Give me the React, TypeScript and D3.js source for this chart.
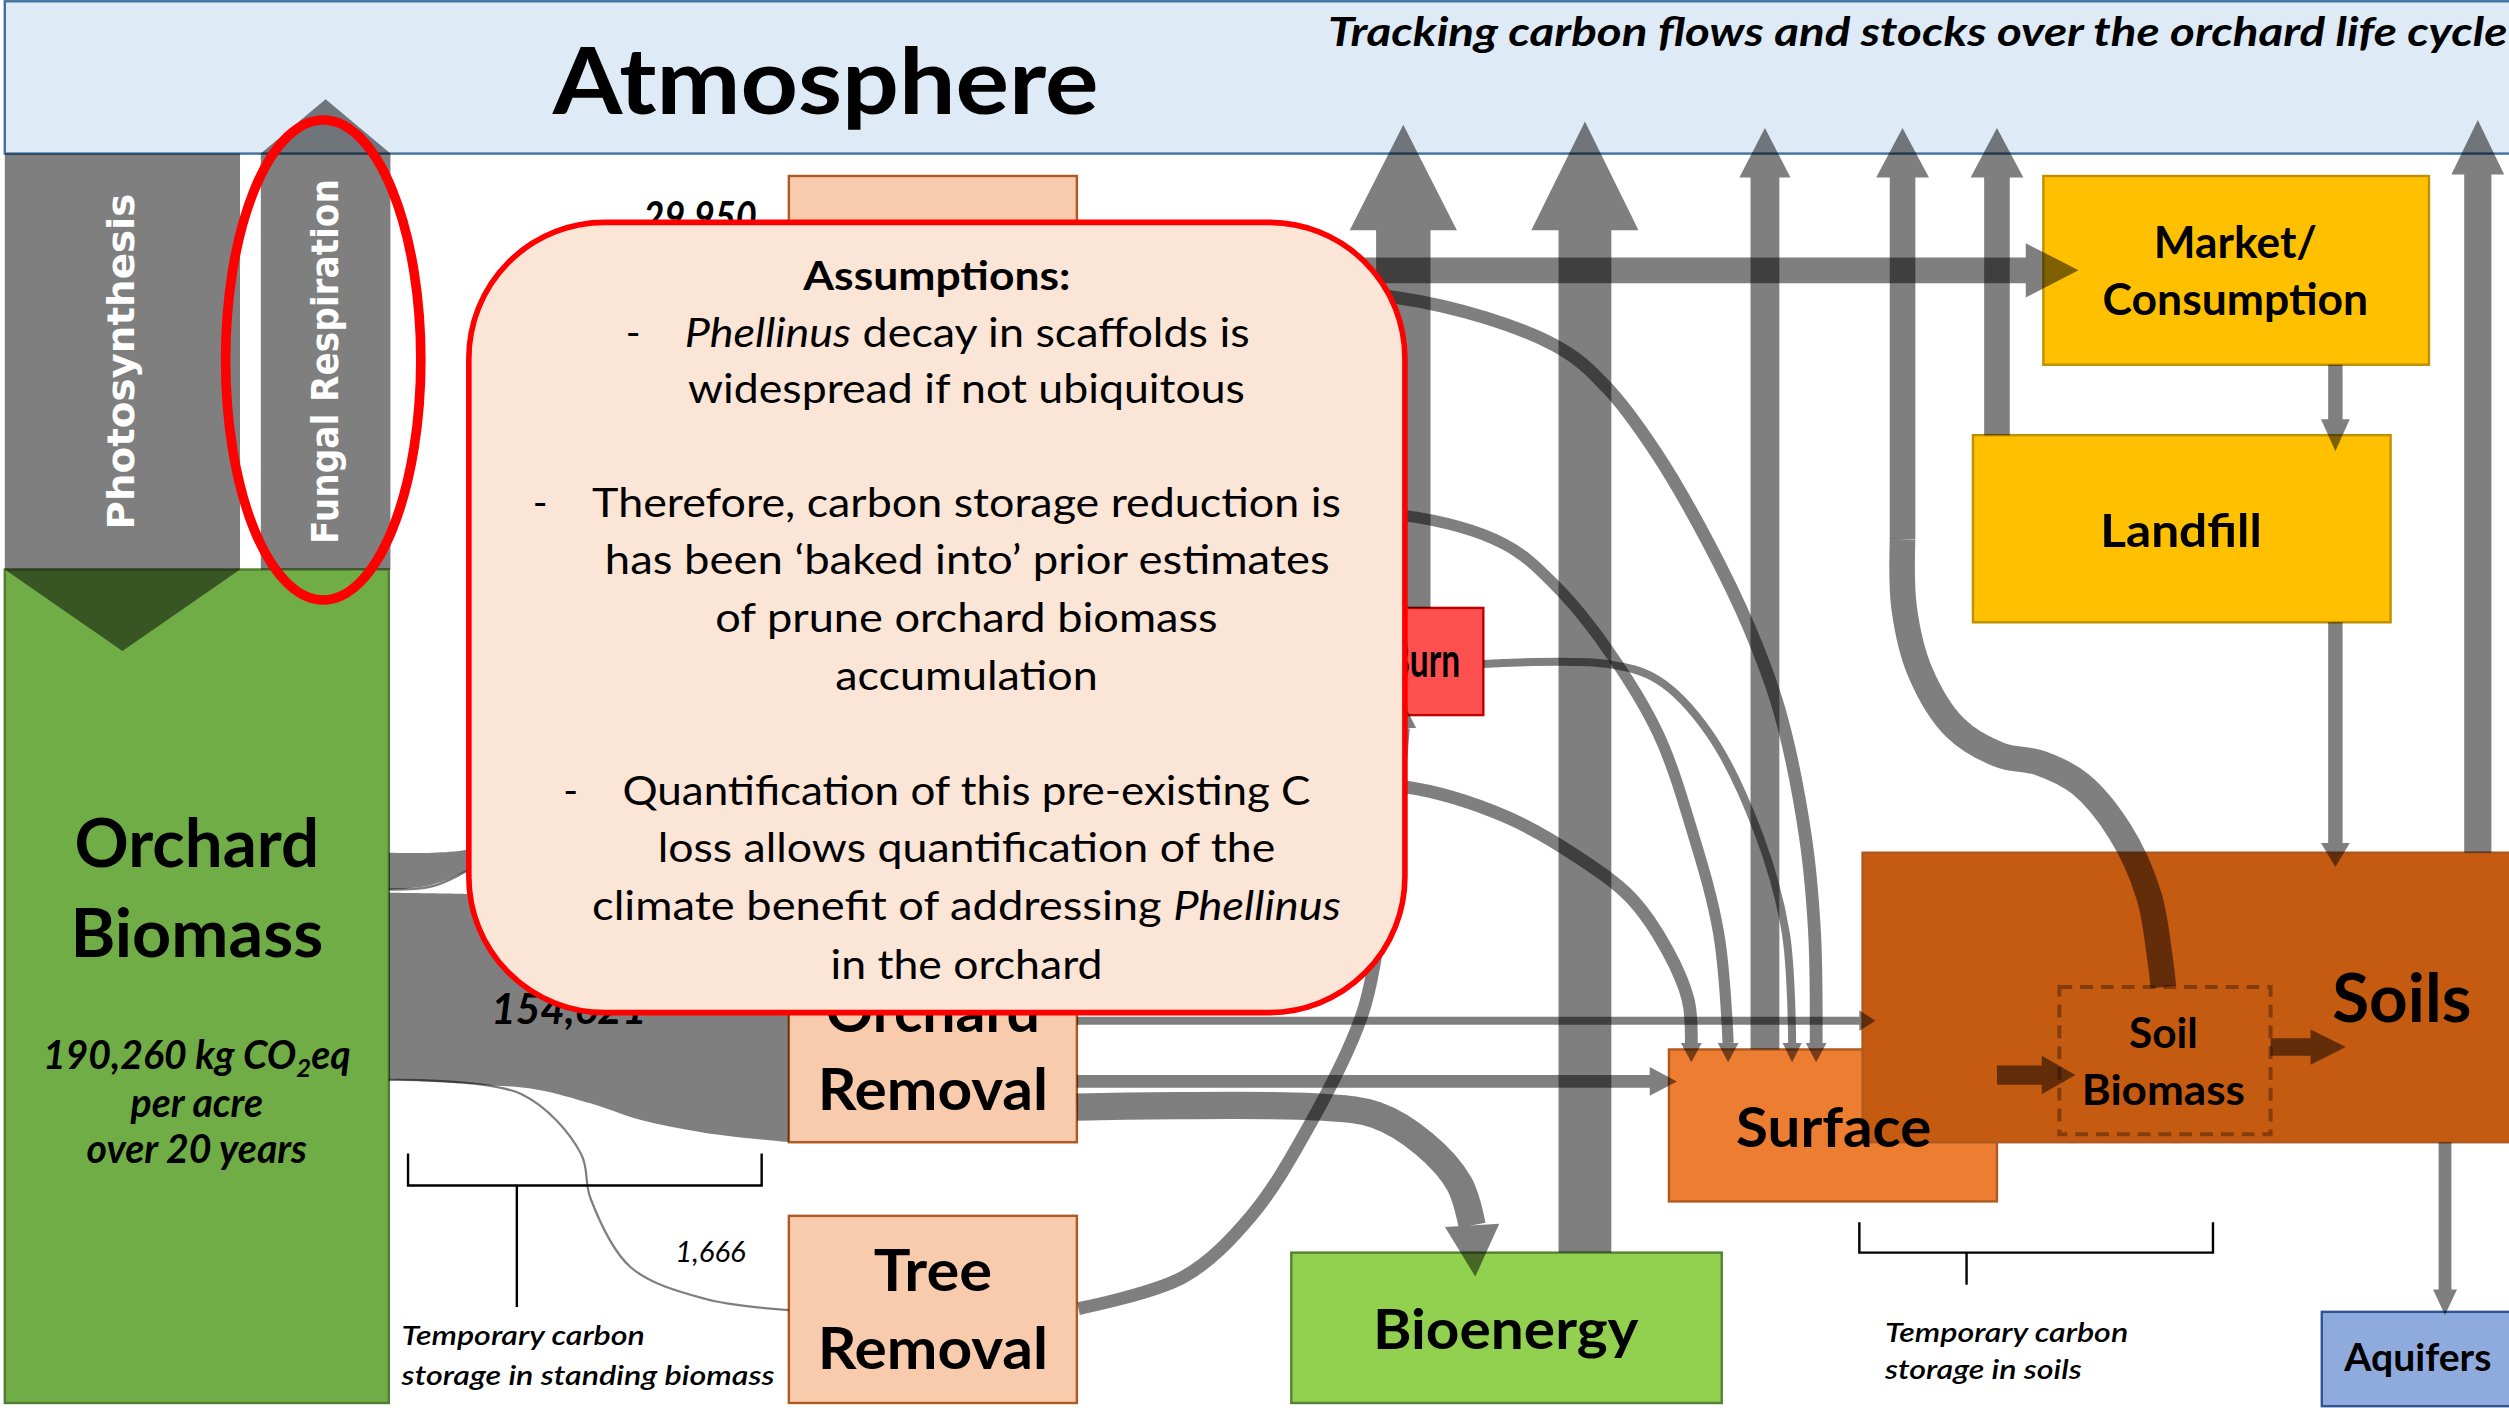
import React from "react";
import * as d3 from "d3";

const W = 2509;
const H = 1411;
// the diagram is laid out on a 1568 x 882 grid and scaled up to the page
const x = d3.scaleLinear().domain([0, 1568]).range([0, W]);
const y = d3.scaleLinear().domain([0, 882]).range([0, H]);
const k = W / 1568;
const FONT = "Lato, 'Open Sans', sans-serif";

// ---------- data ----------
const nodeIds = ["biomass", "pruning", "removal", "trees", "burn", "bioenergy", "surface", "soils", "soilBiomass", "market", "landfill", "aquifers"];
const nodeLabels = [["Orchard", "Biomass"], [], ["Orchard", "Removal"], ["Tree", "Removal"], ["Burn"], ["Bioenergy"], ["Surface"], ["Soils"], ["Soil", "Biomass"], ["Market/", "Consumption"], ["Landfill"], ["Aquifers"]];
const flowValues = [29950, 154621, 1666]; // kg CO2eq per acre
const standingStock = 190260;
const stockUnit = ["kg CO", "2", "eq"];
const stockPeriod = ["per acre", "over 20 years"];
const exchangeLabels = ["Photosynthesis", "Fungal Respiration"];
const notes = [["Temporary carbon", "storage in standing biomass"], ["Temporary carbon", "storage in soils"]];
const title = "Tracking carbon flows and stocks over the orchard life cycle";
const assumptions = [
  "Assumptions:",
  "*Phellinus* decay in scaffolds is",
  "widespread if not ubiquitous",
  "Therefore, carbon storage reduction is",
  "has been \u2018baked into\u2019 prior estimates",
  "of prune orchard biomass",
  "accumulation",
  "Quantification of this pre-existing C",
  "loss allows quantification of the",
  "climate benefit of addressing *Phellinus*",
  "in the orchard",
];

// ---------- layout ----------
const boxes: Record<string, any> = {
  biomass: { r: [3, 356, 243, 877], fill: "#70AD47", stroke: "#507E32" },
  pruning: { r: [493, 110, 673, 330], fill: "#F8CBAD", stroke: "#AE5A21" },
  removal: { r: [493, 590, 673, 714], fill: "#F8CBAD", stroke: "#AE5A21" },
  trees: { r: [493, 760, 673, 877], fill: "#F8CBAD", stroke: "#AE5A21" },
  burn: { r: [843, 380, 927, 447], fill: "#FF5050", stroke: "#C00000" },
  bioenergy: { r: [807, 783, 1076, 877], fill: "#92D050", stroke: "#548235" },
  surface: { r: [1043, 656, 1248, 751], fill: "#ED7D31", stroke: "#AE5A21" },
  soils: { r: [1164, 533, 1575, 714], fill: "#C55A11", stroke: "#AE5A21" },
  soilBiomass: { r: [1287, 617, 1419, 709], fill: "none", stroke: "#843C0C", dash: true },
  market: { r: [1277, 110, 1518, 228], fill: "#FFC000", stroke: "#BF9000" },
  landfill: { r: [1233, 272, 1494, 389], fill: "#FFC000", stroke: "#BF9000" },
  aquifers: { r: [1451, 820, 1575, 879], fill: "#8FAADC", stroke: "#2F5597" },
};
const labelPos: Record<string, any> = {
  biomass: { cx: 123, base: [542, 598], fs: 42, w: [153, 158] },
  removal: { cx: 583, base: [645, 694], fs: 36, w: [134, 144] },
  trees: { cx: 583, base: [807, 856], fs: 36, w: [74, 144] },
  burn: { cx: 890, base: [423], fs: 30, w: [45] },
  bioenergy: { cx: 941, base: [843], fs: 35, w: [166] },
  surface: { cx: 1146, base: [717], fs: 35, w: [122] },
  soils: { cx: 1501, base: [639], fs: 42, w: [87] },
  soilBiomass: { cx: 1352, base: [655, 691], fs: 26, w: [43, 102] },
  market: { cx: 1397, base: [161, 197], fs: 27, w: [102, 166] },
  landfill: { cx: 1363, base: [342], fs: 29, w: [101] },
  aquifers: { cx: 1511, base: [857], fs: 24, w: [92] },
};

// flows up to the atmosphere
const ventFlows = [
  { from: "burn", cx: 877, w: 34, hw: 67, head: 144, tip: 78 },
  { from: "bioenergy", cx: 990.5, w: 33, hw: 67, head: 144, tip: 76 },
  { from: "surface", cx: 1103, w: 18, hw: 32, head: 111, tip: 80 },
  { from: "soilBiomass", cx: 1189, w: 16, hw: 33, head: 111, tip: 80, bottom: 337 },
  { from: "landfill", cx: 1248, w: 16, hw: 33, head: 111, tip: 80 },
  { from: "soils", cx: 1548.5, w: 17, hw: 33, head: 109, tip: 75 },
];
const sideFlows = [
  { cy: 169, w: 16, hw: 34, x0: 673, head: 1266, tip: 1299 },
  { cy: 676, w: 8, hw: 18, x0: 673, head: 1031, tip: 1048 },
  { cy: 638, w: 5, hw: 13, x0: 673, head: 1162, tip: 1172 },
  { cy: 672, w: 12, hw: 24, x0: 1248, head: 1276, tip: 1297 },
  { cy: 654.5, w: 11, hw: 22, x0: 1419, head: 1444, tip: 1466 },
];
const dropFlows = [
  { cx: 1459.5, w: 9, hw: 18, y0: 228, head: 262, tip: 282 },
  { cx: 1459.5, w: 9, hw: 18, y0: 389, head: 527, tip: 542 },
  { cx: 1528, w: 8, hw: 15, y0: 714, head: 806, tip: 822 },
];
const curvedFlows = [
  { w: 8, hw: 13, tip: [1135, 664], pts: [[700, 186], [873, 186], [972, 216], [1004, 242], [1035, 283], [1068, 340], [1093, 392], [1112, 444], [1128, 521], [1134, 583], [1135, 652]] },
  { w: 7, hw: 13, tip: [1080, 664], pts: [[780, 322], [876, 322], [940, 340], [972, 366], [1004, 405], [1036, 458], [1058, 521], [1074, 583], [1080, 652]] },
  { w: 8, hw: 13, tip: [1057, 664], pts: [[780, 492], [879, 492], [940, 510], [988, 537], [1020, 562], [1042, 594], [1055, 625], [1057, 652]] },
  { w: 5, hw: 12, tip: [1120, 664], pts: [[927, 415], [1004, 415], [1036, 425], [1068, 458], [1099, 521], [1116, 583], [1120, 652]] },
  { w: 8, hw: 16, tip: [877, 439], pts: [[674, 818], [740, 798], [782, 760], [818, 704], [851, 635], [860, 596], [868, 540], [874, 490], [877, 455]] },
  { w: 17, hw: 34, tip: [922, 798], pts: [[673, 692], [824, 692], [860, 697], [890, 715], [912, 740], [920, 766]] },
  { w: 16, pts: [[1189, 337], [1190, 380], [1200, 420], [1222, 455], [1250, 472], [1275, 477], [1300, 490], [1325, 520], [1343, 560], [1350, 600], [1352, 617]] },
];
// bands leaving the standing biomass: [x, top, bottom]
const pruneBand = [[243, 533, 556], [270, 533, 553], [293, 531, 544], [330, 520, 530], [380, 470, 495], [430, 320, 350], [470, 175, 205], [493, 150, 180]];
const removalBand = [[243, 558, 675], [300, 559, 678], [335, 561, 681], [370, 566, 690], [400, 575, 700], [440, 586, 708], [493, 595, 714]];
const treeLine = [[243, 675], [326, 684], [363, 721], [369, 749], [394, 792], [441, 812], [493, 819]];
const pruneEdge = [[243, 556], [270, 554], [293, 544], [330, 526]];
const assumptionRows = [[181, 502, 669], [217, 428, 781], [252, 430, 778], [323, 370, 838], [359, 378, 831], [395, 447, 761], [431, 522, 686], [503, 389, 819], [539, 411, 797], [575, 370, 838], [612, 519, 689]];
const bulletX: Record<number, number> = { 1: 391, 3: 333, 7: 352 };

export default function App() {
  const poly = d3.line<number[]>().x((d) => x(d[0])).y((d) => y(d[1]));
  const smooth = d3.line<number[]>().x((d) => x(d[0])).y((d) => y(d[1])).curve(d3.curveCatmullRom.alpha(0.5));
  const band = d3.area<number[]>().x((d) => x(d[0])).y0((d) => y(d[1])).y1((d) => y(d[2])).curve(d3.curveCatmullRom.alpha(0.5));
  const fmt = d3.format(",");

  const vArrow = (cx: number, w: number, hw: number, y0: number, yh: number, yt: number) =>
    poly([[cx - w / 2, y0], [cx - w / 2, yh], [cx - hw / 2, yh], [cx, yt], [cx + hw / 2, yh], [cx + w / 2, yh], [cx + w / 2, y0]]) + "Z";
  const hArrow = (cy: number, w: number, hw: number, x0: number, xh: number, xt: number) =>
    poly([[x0, cy - w / 2], [xh, cy - w / 2], [xh, cy - hw / 2], [xt, cy], [xh, cy + hw / 2], [xh, cy + w / 2], [x0, cy + w / 2]]) + "Z";
  const headAt = (b: number[], t: number[], hw: number) => {
    const dx = t[0] - b[0], dy = t[1] - b[1], L = Math.hypot(dx, dy);
    const nx = (-dy / L) * hw / 2, ny = (dx / L) * hw / 2;
    return poly([[b[0] + nx, b[1] + ny], t, [b[0] - nx, b[1] - ny]]) + "Z";
  };

  const parts = (s: string) => s.split("*").map((p, i) => (
    <tspan key={i} fontStyle={i % 2 ? "italic" : "normal"}>{p}</tspan>
  ));

  return (
    <svg width={W} height={H} style={{ position: "absolute", left: 0, top: 0, background: "#fff" }}>
      {/* atmosphere banner */}
      <rect x={x(3)} y={y(0.8)} width={x(1570) - x(3)} height={y(96) - y(0.8)} fill="#DEEBF7" stroke="#41719C" strokeWidth={1.5 * k} />
      <text x={x(516)} y={y(71)} fontFamily={FONT} fontWeight={700} fontSize={58 * k} textAnchor="middle" textLength={341 * k} lengthAdjust="spacingAndGlyphs">Atmosphere</text>
      <text x={x(830)} y={y(28.5)} fontFamily={FONT} fontWeight={700} fontStyle="italic" fontSize={25 * k} textLength={737 * k} lengthAdjust="spacingAndGlyphs">{title}</text>

      {/* stocks and pools */}
      {nodeIds.map((id) => {
        const b = boxes[id];
        return (
          <rect key={id} x={x(b.r[0])} y={y(b.r[1])} width={x(b.r[2]) - x(b.r[0])} height={y(b.r[3]) - y(b.r[1])}
            fill={b.fill} stroke={b.stroke} strokeWidth={(b.dash ? 2.5 : 1.5) * k} strokeDasharray={b.dash ? `${8 * k} ${5 * k}` : undefined} />
        );
      })}

      {/* bands out of the standing biomass */}
      <g opacity={0.5}><path d={band(pruneBand) || ""} fill="#000" /></g>
      <g opacity={0.5}><path d={band(removalBand) || ""} fill="#000" /></g>
      <g opacity={0.5}><path d={smooth(pruneEdge) || ""} fill="none" stroke="#000" strokeWidth={1.5 * k} /></g>
      <g opacity={0.5}><path d={smooth(treeLine) || ""} fill="none" stroke="#000" strokeWidth={1.4 * k} /></g>

      {/* photosynthesis and fungal respiration */}
      <g opacity={0.5}><path d={vArrow(76.5, 147, 147, 96, 356, 407)} fill="#000" /></g>
      <g opacity={0.5}><path d={vArrow(203.5, 81, 81, 356, 96, 62)} fill="#000" /></g>

      {/* vents to the atmosphere and transfers between pools */}
      {ventFlows.map((f, i) => (
        <g key={"v" + i} opacity={0.5}>
          <path d={vArrow(f.cx, f.w, f.hw, f.bottom ?? boxes[f.from].r[1], f.head, f.tip)} fill="#000" />
        </g>
      ))}
      {sideFlows.map((f, i) => (
        <g key={"s" + i} opacity={0.5}><path d={hArrow(f.cy, f.w, f.hw, f.x0, f.head, f.tip)} fill="#000" /></g>
      ))}
      {dropFlows.map((f, i) => (
        <g key={"d" + i} opacity={0.5}><path d={vArrow(f.cx, f.w, f.hw, f.y0, f.head, f.tip)} fill="#000" /></g>
      ))}
      {curvedFlows.map((f, i) => (
        <g key={"c" + i} opacity={0.5}>
          <path d={smooth(f.pts) || ""} fill="none" stroke="#000" strokeWidth={f.w * k} />
          {f.tip && <path d={headAt(f.pts[f.pts.length - 1], f.tip, f.hw!)} fill="#000" />}
        </g>
      ))}

      {/* node labels */}
      {nodeIds.map((id, i) => {
        const p = labelPos[id];
        if (!p) return null;
        return nodeLabels[i].map((s, j) => (
          <text key={id + j} x={x(p.cx)} y={y(p.base[j])} fontFamily={FONT} fontWeight={700} fontSize={p.fs * k}
            textAnchor="middle" textLength={p.w[j] * k} lengthAdjust="spacingAndGlyphs">{s}</text>
        ));
      })}

      {/* standing stock */}
      <text x={x(123)} y={y(668)} fontFamily={FONT} fontWeight={700} fontStyle="italic" fontSize={24.5 * k} textAnchor="middle">
        {fmt(standingStock) + " " + stockUnit[0]}
        <tspan fontSize={16 * k} dy={5 * k}>{stockUnit[1]}</tspan>
        <tspan dy={-5 * k}>{stockUnit[2]}</tspan>
      </text>
      {stockPeriod.map((s, i) => (
        <text key={s} x={x(123)} y={y([698, 727][i])} fontFamily={FONT} fontWeight={700} fontStyle="italic" fontSize={24.5 * k} textAnchor="middle">{s}</text>
      ))}

      {/* flow values */}
      <text x={x(402)} y={y(145)} fontFamily={FONT} fontWeight={700} fontStyle="italic" fontSize={26 * k} textLength={71 * k} lengthAdjust="spacingAndGlyphs">{fmt(flowValues[0])}</text>
      <text x={x(307)} y={y(640)} fontFamily={FONT} fontWeight={700} fontStyle="italic" fontSize={26 * k} textLength={97 * k} lengthAdjust="spacingAndGlyphs">{fmt(flowValues[1])}</text>
      <text x={x(422)} y={y(789)} fontFamily={FONT} fontStyle="italic" fontSize={17.5 * k} textLength={44 * k} lengthAdjust="spacingAndGlyphs">{fmt(flowValues[2])}</text>

      {/* brackets */}
      <path d={poly([[255, 721], [255, 741], [476, 741], [476, 721]]) || ""} fill="none" stroke="#000" strokeWidth={1.5 * k} />
      <path d={poly([[323, 741], [323, 817]]) || ""} fill="none" stroke="#000" strokeWidth={1.5 * k} />
      <path d={poly([[1162, 764], [1162, 783], [1383, 783], [1383, 764]]) || ""} fill="none" stroke="#000" strokeWidth={1.5 * k} />
      <path d={poly([[1229, 783], [1229, 803]]) || ""} fill="none" stroke="#000" strokeWidth={1.5 * k} />
      {notes[0].map((s, i) => (
        <text key={"n0" + i} x={x(251)} y={y([841, 866][i])} fontFamily={FONT} fontWeight={600} fontStyle="italic" fontSize={17 * k}
          textLength={[152, 233][i] * k} lengthAdjust="spacingAndGlyphs">{s}</text>
      ))}
      {notes[1].map((s, i) => (
        <text key={"n1" + i} x={x(1178)} y={y([839, 862][i])} fontFamily={FONT} fontWeight={600} fontStyle="italic" fontSize={17 * k}
          textLength={[152, 123][i] * k} lengthAdjust="spacingAndGlyphs">{s}</text>
      ))}

      {/* exchange labels on the big arrows */}
      {exchangeLabels.map((s, i) => {
        const cx = [84, 211][i];
        const len = [210, 228][i];
        return (
          <text key={s} transform={`translate(${x(cx)},${y(226)}) rotate(-90)`} fontFamily="'DejaVu Sans', sans-serif" fontWeight={700}
            fontSize={23.5 * k} fill="#fff" textAnchor="middle" textLength={len * k} lengthAdjust="spacingAndGlyphs">{s}</text>
        );
      })}

      {/* assumptions callout */}
      <rect x={x(293)} y={y(139)} width={x(878) - x(293)} height={y(633) - y(139)} rx={85 * k} fill="#FBE5D6" stroke="#FF0000" strokeWidth={3.5 * k} />
      {assumptions.map((s, i) => {
        const [by, x0, x1] = assumptionRows[i];
        return (
          <g key={"a" + i}>
            {bulletX[i] !== undefined && (
              <text x={x(bulletX[i])} y={y(by)} fontFamily={FONT} fontSize={25 * k}>-</text>
            )}
            <text x={x(x0)} y={y(by)} fontFamily={FONT} fontWeight={i === 0 ? 700 : 400} fontSize={25 * k}
              textLength={(x1 - x0) * k} lengthAdjust="spacingAndGlyphs">{parts(s)}</text>
          </g>
        );
      })}

      {/* highlight */}
      <ellipse cx={x(202)} cy={y(225)} rx={61 * k} ry={150 * k} fill="none" stroke="#FF0000" strokeWidth={6 * k} />
    </svg>
  );
}
